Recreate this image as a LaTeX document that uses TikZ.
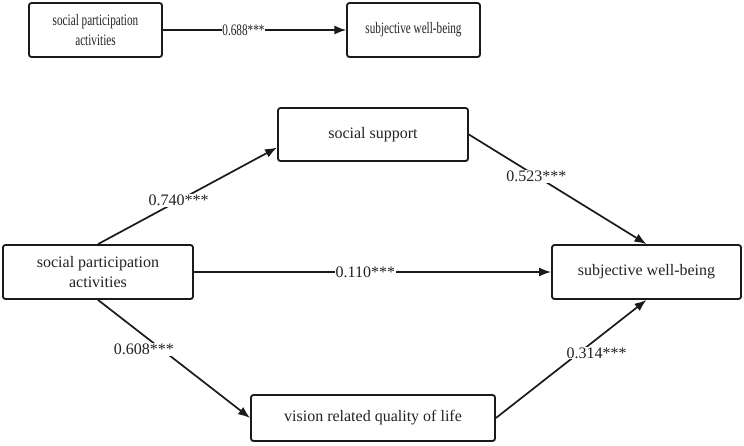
\documentclass[tikz,border=0pt]{standalone}
\usepackage{fontspec}
\setmainfont{Liberation Serif}
\usepackage{xcolor}
\usepackage{tikz}
\usetikzlibrary{arrows.meta,positioning}
\definecolor{PathInk}{HTML}{1A1A1A}
\definecolor{PathText}{HTML}{222222}

\begin{document}
\begin{tikzpicture}[
	x=1pt, y=-1pt,
	box/.style={draw=PathInk, line width=1.8pt, rounded corners=2.5pt, align=center, text=PathText, inner sep=2pt},
	large/.style={font=\fontsize{16}{20}\selectfont},
	squeeze/.style={xscale=0.7, transform shape},
	arrow/.style={-{Latex[length=12pt,width=9pt]}, line width=1.7pt, draw=PathInk},
	coef/.style={fill=white, text=PathText, inner sep=1pt}
]
\useasboundingbox (0,0) rectangle (744,445);

% total effect
\node[box, large, squeeze, minimum width=190pt, minimum height=54pt] (particip) at (95.5,30) {social participation\\activities};
\node[box, large, squeeze, minimum width=190pt, minimum height=54pt] (wellbeing) at (413.5,30) {subjective well-being};

\draw[arrow] (particip) -- node[coef, large, squeeze, pos=0.44] {0.688***} (wellbeing);

% mediation model
\node[box, large, minimum width=190pt, minimum height=54pt] (particip2) at (98,272) {social participation\\activities};
\node[box, large, minimum width=190pt, minimum height=53pt] (support) at (373,134.5) {social support};
\node[box, large, minimum width=189pt, minimum height=54pt] (wellbeing2) at (646.5,272) {subjective well-being};
\node[box, large, minimum width=244pt, minimum height=46pt] (vision) at (373,418) {vision related quality of life};

\draw[arrow] (particip2.north) -- node[coef, large, pos=0.45] {0.740***} ([yshift=-13pt]support.west);
\draw[arrow] (support.east) -- node[coef, large, pos=0.38] {0.523***} (wellbeing2.north);
\draw[arrow] (particip2) -- node[coef, large, pos=0.48] {0.110***} (wellbeing2);
\draw[arrow] (particip2.south) -- node[coef, large, pos=0.42, xshift=-18pt] {0.608***} (vision.west);
\draw[arrow] (vision.east) -- node[coef, large, pos=0.55, xshift=18pt] {0.314***} (wellbeing2.south);
\end{tikzpicture}
\end{document}
